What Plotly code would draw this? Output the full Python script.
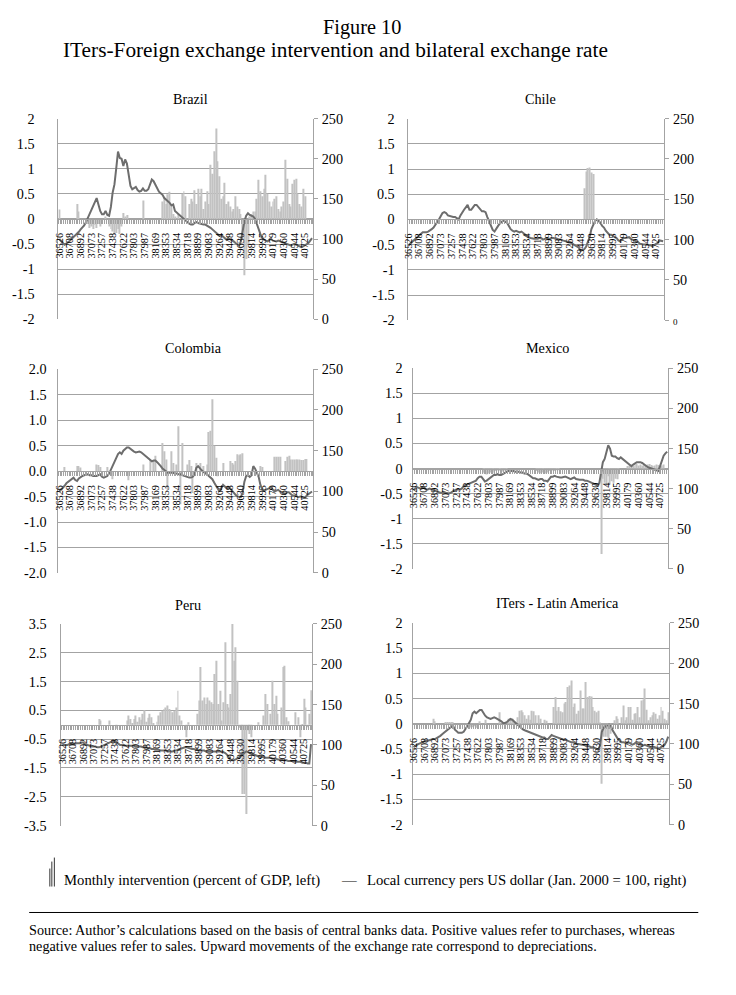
import plotly.graph_objects as go

# ---------------- data ----------------
months = list(range(143))  # Jan 2000 ... Nov 2011 (monthly categories)
tick_positions = [0, 6, 12, 18, 24, 30, 36, 42, 48, 54, 60, 66, 72, 78, 84, 90, 96, 102, 108, 114, 120, 126, 132, 138]
tick_labels = ["36526", "36708", "36892", "37073", "37257", "37438", "37622", "37803", "37987", "38169",
               "38353", "38534", "38718", "38899", "39083", "39264", "39448", "39630", "39814", "39995",
               "40179", "40360", "40544", "40725"]

brazil_intervention = [
    0.19, 0, 0, 0, 0, 0, 0, 0, 0, 0,
    0.30, 0.15, 0, 0, 0, 0, -0.10, -0.18, -0.15, -0.20,
    -0.12, -0.18, -0.10, -0.15, 0, 0, 0.05, 0, -0.15, -0.20,
    -0.25, -0.30, -0.28, -0.20, -0.30, -0.15, 0.12, 0.05, 0.08, 0,
    0, 0, 0, 0, 0, 0, 0, 0.37, 0, 0,
    0, 0, 0, 0, 0, 0, 0, 0, 0.35, 0.42,
    0.30, 0.49, 0.54, 0.30, 0.10, 0.05, 0, 0.10, 0, 0.50,
    0.55, 0.45, 0, 0.30, 0.40, 0.35, 0.57, 0.30, 0.60, 0.45,
    0.60, 0.20, 0.35, 0.55, 0.30, 1.08, 0.90, 1.35, 1.80, 1.15,
    0.85, 0.40, 0.45, 0.72, 0.30, 0.35, 0.25, 0.15, 0.20, 0.45,
    0.25, 0.20, 0.10, -0.30, -1.12, -0.80, -0.50, 0.05, 0.10, 0.15,
    0.15, 0.40, 0.78, 0.55, 0.45, 0.60, 0.88, 0.50, 0.35, 0.25,
    0.35, 0.40, 0.45, 0.20, 0.15, 0.25, 0.35, 1.18, 0.80, 0.30,
    0.25, 0.70, 0.78, 0.80, 0.50, 0.30, 0.25, 0.60, 0.45, 0,
    0, 0, 0]
brazil_fx = [
    100, 97, 95, 93, 94, 96, 98, 100, 102, 105,
    107, 109, 112, 114, 117, 121, 126, 131, 137, 141,
    146, 151, 143, 135, 131, 131, 135, 130, 129, 140,
    158, 168, 188, 209, 201, 200, 191, 199, 194, 178,
    166, 162, 163, 165, 161, 159, 160, 163, 160, 160,
    162, 167, 174, 172, 168, 163, 159, 157, 155, 151,
    149, 148, 145, 142, 143, 135, 133, 130, 128, 126,
    124, 122, 120, 119, 118, 118, 120, 121, 120, 119,
    118, 118, 118, 117, 116, 114, 112, 110, 108, 106,
    104, 105, 103, 101, 99, 101, 100, 98, 97, 95,
    93, 92, 97, 112, 122, 129, 132, 130, 129, 128,
    125, 118, 112, 106, 102, 99, 98, 97, 99, 100,
    98, 97, 97, 98, 97, 96, 95, 95, 93, 93,
    92, 93, 94, 93, 92, 91, 90, 91, 92, 94,
    95, 98, 101]

chile_intervention = [
    0, 0, 0, 0, 0, 0, 0, 0, 0, 0,
    0, 0, 0, 0, 0, 0, 0, 0, 0, 0,
    0, 0, 0, 0, 0, 0, 0, 0, 0, 0,
    0, 0, 0, 0, 0, 0, 0, 0, 0, 0,
    0, 0, 0, 0, 0, 0, 0, 0, 0, 0,
    0, 0, 0, 0, 0, 0, 0, 0, 0, 0,
    0, 0, 0, 0, 0, 0, 0, 0, 0, 0,
    0, 0, 0, 0, 0, 0, 0, 0, 0, 0,
    0, 0, 0, 0, 0, 0, 0, 0, 0, 0,
    0, 0, 0, 0, 0, 0, 0, 0, 0.62, 0.95,
    1.02, 1.03, 0.93, 0.90, 0, 0, 0, 0, 0, 0,
    0, 0, 0, 0, 0, 0, 0, 0, 0, 0,
    0, 0, 0, 0, 0, 0, 0, 0, 0, 0,
    0, 0, 0, 0, 0, 0, 0, 0, 0, 0,
    0, 0, 0]
chile_fx = [
    93, 95, 97, 99, 101, 104, 106, 108, 109, 109,
    109, 110, 111, 113, 115, 118, 121, 125, 129, 133,
    134, 133, 130, 129, 129, 128, 128, 126, 125, 130,
    134, 137, 140, 143, 137, 137, 140, 143, 143, 140,
    137, 135, 135, 134, 128, 122, 117, 112, 110, 114,
    117, 120, 122, 124, 122, 121, 117, 113, 111, 110,
    111, 110, 109, 110, 108, 106, 104, 103, 102, 101,
    101, 101, 101, 102, 102, 100, 101, 102, 101, 101,
    102, 102, 101, 101, 100, 100, 99, 98, 98, 97,
    97, 96, 94, 93, 92, 90, 86, 87, 88, 91,
    97, 103, 113, 119, 123, 125, 123, 121, 117, 115,
    111, 108, 106, 106, 104, 103, 102, 99, 98, 100,
    102, 102, 103, 103, 101, 100, 99, 98, 97, 95,
    94, 94, 94, 94, 93, 93, 92, 93, 95, 96,
    99, 98, 98]

colombia_intervention = [
    0, 0, 0, 0.08, 0, 0, 0, 0, 0, 0,
    0.10, 0.10, 0.07, 0, 0, 0, 0, 0, 0, 0,
    0, 0.13, 0.12, 0.08, 0, 0, 0, 0.08, 0, 0,
    -0.16, 0, 0, 0, 0, 0, 0, 0, 0, -0.18,
    0, 0, 0, 0, 0, 0, 0, 0.13, 0, 0,
    0, 0.22, 0, 0.22, 0.30, 0, 0, 0, 0.55, 0.39,
    0.23, -0.36, 0, 0.39, 0.16, 0, 0.13, 0.88, -0.65, 0.55,
    0, 0, 0.13, 0.22, 0.10, -0.43, 0, 0.16, 0, 0.16,
    0, 0.10, 0, 0.13, 0.77, 0.79, 1.41, 0.50, 0.26, -0.10,
    0, 0, 0.16, 0, 0, 0, 0.20, 0.16, 0.13, 0.20,
    0.33, 0.31, 0.33, 0.35, 0, 0, 0, 0, 0, 0,
    0, 0, 0, 0.10, 0.08, 0, 0, 0, 0, 0,
    0, 0.28, 0.28, 0.28, 0.28, 0, 0, 0.20, 0.28, 0.30,
    0.23, 0.23, 0.23, 0.23, 0.23, 0.23, 0.22, 0.22, 0.24, 0.24,
    0, 0, 0]
colombia_fx = [
    100, 102, 104, 107, 110, 112, 114, 116, 117, 114,
    113, 116, 118, 119, 120, 121, 121, 120, 120, 119,
    119, 119, 120, 121, 118, 117, 118, 119, 122, 127,
    133, 138, 143, 146, 148, 146, 150, 152, 154, 154,
    152, 150, 149, 148, 149, 149, 148, 146, 145, 143,
    141, 139, 137, 138, 138, 136, 134, 131, 128, 126,
    124, 123, 123, 123, 123, 122, 122, 121, 121, 120,
    119, 119, 118, 117, 117, 118, 121, 129, 131, 128,
    126, 124, 123, 121, 119, 117, 115, 111, 107, 103,
    100, 104, 108, 106, 104, 105, 104, 101, 98, 96,
    94, 93, 93, 99, 112, 119, 120, 118, 120, 131,
    128, 123, 118, 108, 103, 101, 102, 103, 104, 105,
    102, 100, 101, 102, 100, 99, 98, 97, 99, 99,
    97, 95, 95, 95, 93, 94, 94, 92, 92, 95,
    97, 99, 100]

mexico_intervention = [
    0, 0, 0, 0, 0, 0, 0, 0, 0, 0,
    0, 0, 0, 0, 0, 0, 0, 0, 0, 0,
    0, 0, 0, 0, 0, 0, 0, 0, 0, 0,
    0, 0, 0, 0, 0, 0, 0, 0, 0, -0.08,
    -0.10, -0.12, -0.10, -0.08, -0.10, -0.06, -0.05, -0.04, -0.03, -0.05,
    -0.06, -0.04, -0.03, 0, 0, 0, 0, 0, 0, 0,
    0, 0, 0, 0, 0, 0, 0, 0, 0, -0.05,
    -0.08, -0.10, -0.08, -0.06, -0.10, -0.08, -0.05, -0.06, -0.04, -0.05,
    -0.03, -0.02, 0, 0, 0, 0, 0, 0, 0, 0,
    0, 0, 0, 0, 0, 0, 0, 0, 0, 0,
    0, 0, 0, 0, 0, -1.70, -0.20, -0.28, -0.34, -0.15,
    -0.31, -0.25, -0.28, -0.20, -0.21, -0.10, 0, 0, 0, 0,
    0.05, 0.06, 0.08, 0.05, 0.07, 0.09, 0.06, 0.08, 0.05, 0.07,
    0.06, 0.08, 0.09, 0.07, 0.05, 0.06, 0.08, 0.07, 0.05, 0.06,
    0.08, 0, 0]
mexico_fx = [
    98, 100, 102, 101, 100, 101, 101, 99, 99, 100,
    99, 98, 97, 97, 96, 95, 95, 96, 95, 94,
    94, 95, 97, 98, 99, 99, 99, 100, 103, 104,
    105, 106, 108, 109, 109, 110, 113, 115, 115, 112,
    109, 110, 112, 114, 115, 117, 117, 118, 117, 117,
    118, 120, 121, 122, 122, 122, 122, 121, 121, 121,
    120, 120, 119, 119, 118, 116, 114, 113, 113, 112,
    111, 112, 112, 110, 110, 109, 112, 115, 115, 116,
    115, 114, 114, 114, 115, 115, 114, 113, 112, 113,
    114, 112, 111, 111, 111, 111, 110, 110, 109, 108,
    107, 106, 105, 104, 107, 120, 133, 137, 144, 154,
    150, 141, 140, 140, 138, 137, 139, 137, 135, 133,
    132, 130, 128, 130, 132, 133, 133, 133, 132, 130,
    129, 127, 126, 125, 124, 123, 122, 122, 128, 134,
    141, 144, 146]

peru_intervention = [
    0, 0, 0, 0, 0, 0, 0, 0, 0, 0,
    0, 0, 0, 0, 0, 0, 0, 0, 0, 0,
    0, 0.20, 0.15, 0, 0, 0, 0, 0.15, 0, 0,
    0, -0.14, 0, 0, 0, 0, 0, 0.15, 0.32, 0.20,
    0.05, 0.20, 0.32, 0.10, 0.26, 0.17, 0.38, 0.50, 0.10, 0.24,
    0.38, 0.26, 0.05, 0, 0.10, 0.32, 0.43, 0.49, 0.55, 0.60,
    0.67, 0.55, 0.49, 0.43, 0.49, 0.60, 1.18, 0.32, 0.15, 0,
    0, -0.43, 0.09, 0, 0, 0, 0, 0.38, 0.84, 2.00,
    0.84, 0.95, 0.72, 0.95, 0.84, 0.78, 0.72, 1.76, 2.22, 0.72,
    1.18, 0.15, 0.78, 2.86, 0.72, 0.60, 1.07, 3.50, 2.22, 2.69,
    1.53, -0.10, -0.12, -2.40, -2.40, -3.10, -0.20, -0.32, -0.43, 0,
    0, 0, 0.09, 0, 0, 0.32, 1.07, 0.72, 0, 0.38,
    1.53, 0.72, 1.01, 0.38, 0, 0.60, 2.00, 2.05, 0.26, 0.12,
    0, 0, 0, 0.43, 0, 0.26, -0.43, 0.03, 0.90, 0.60,
    -0.09, 0.38, 1.20]
peru_fx = [
    100, 100, 100, 100, 101, 101, 101, 101, 102, 102,
    102, 103, 103, 101, 100, 99, 99, 98, 98, 98,
    97, 97, 98, 99, 100, 101, 102, 103, 104, 105,
    105, 103, 101, 100, 100, 99, 99, 99, 99, 99,
    99, 99, 98, 98, 98, 98, 97, 97, 97, 96,
    96, 95, 95, 94, 94, 94, 93, 93, 93, 93,
    92, 92, 92, 92, 93, 93, 94, 95, 96, 96,
    97, 97, 96, 96, 95, 95, 94, 94, 93, 93,
    93, 93, 92, 92, 92, 92, 92, 92, 92, 92,
    92, 92, 91, 90, 88, 85, 82, 81, 81, 82,
    83, 84, 86, 88, 90, 92, 91, 90, 89, 88,
    87, 86, 86, 85, 85, 85, 84, 84, 84, 84,
    83, 83, 83, 82, 82, 82, 81, 81, 81, 80,
    80, 80, 80, 79, 79, 79, 79, 78, 78, 78,
    77, 77, 101]

latam_intervention = [
    0, 0, 0, 0, 0, 0, 0, 0, 0, 0,
    0, 0.10, 0.05, 0, 0, 0, 0, 0, 0.03, 0.02,
    0.03, 0.02, 0.03, 0, 0, 0, 0, 0, 0, 0,
    -0.05, -0.08, -0.06, -0.07, -0.05, -0.08, 0, 0.05, 0, 0,
    0.08, 0, 0, 0, 0, 0, 0, 0, 0.23, 0,
    0, 0, 0, 0.10, 0.08, 0.10, 0.06, 0, 0.13, 0.26,
    0.27, 0.23, 0.17, 0.10, 0.17, 0.08, 0.26, 0.25, 0.17, 0,
    0.17, 0.10, 0, 0.08, 0.06, 0, 0, 0, 0.33, 0.53,
    0.26, 0.33, 0.25, 0.23, 0.40, 0.43, 0.73, 0.76, 0.86, 0.33,
    0.40, 0.20, 0.26, 0.66, 0.30, 0.30, 0.83, 0.53, 0.55, 0.54,
    0.33, 0.26, 0.23, 0.26, 0.03, -1.19, -0.26, -0.26, -0.26, -0.30,
    -0.20, 0, 0.07, 0.15, 0.10, 0, 0.13, 0.36, 0.07, 0.13,
    0.33, 0.33, 0.08, 0.20, 0.21, 0.33, 0.13, 0.46, 0.48, 0.70,
    0.28, 0.07, 0.13, 0.17, 0.23, 0.20, 0.10, 0.17, 0.33, 0.26,
    0.10, 0.07, 0.23]
latam_fx = [
    96, 97, 99, 100, 101, 103, 104, 104, 104, 105,
    105, 106, 106, 107, 108, 110, 112, 114, 115, 117,
    119, 121, 123, 118, 116, 114, 114, 114, 115, 118,
    122, 126, 130, 138, 140, 138, 140, 142, 142, 138,
    135, 133, 132, 131, 132, 133, 132, 131, 129, 128,
    126, 126, 127, 129, 131, 130, 128, 126, 123, 121,
    119, 118, 117, 116, 115, 114, 113, 112, 111, 110,
    110, 109, 108, 108, 106, 106, 108, 111, 110, 109,
    108, 108, 107, 106, 105, 105, 104, 103, 102, 102,
    101, 100, 100, 99, 99, 99, 99, 97, 97, 96,
    96, 95, 94, 93, 98, 115, 120, 122, 123, 124,
    123, 117, 113, 109, 106, 104, 102, 102, 101, 101,
    102, 101, 99, 100, 102, 100, 99, 98, 98, 99,
    98, 96, 96, 97, 96, 95, 94, 94, 96, 97,
    99, 103, 109]

left_ticks_2 = [-2, -1.5, -1, -0.5, 0, 0.5, 1, 1.5, 2]
left_labels_2 = ["-2", "-1.5", "-1", "-0.5", "0", "0.5", "1", "1.5", "2"]
left_labels_2dec = ["-2.0", "-1.5", "-1.0", "-0.5", "0.0", "0.5", "1.0", "1.5", "2.0"]
left_ticks_peru = [-3.5, -2.5, -1.5, -0.5, 0.5, 1.5, 2.5, 3.5]
left_labels_peru = ["-3.5", "-2.5", "-1.5", "-0.5", "0.5", "1.5", "2.5", "3.5"]
right_ticks = [0, 50, 100, 150, 200, 250]
right_labels = ["0", "50", "100", "150", "200", "250"]
right_labels_chile = ["<span style='font-size:9px'>0</span>", "50", "100", "150", "200", "250"]

for arr in [brazil_intervention, brazil_fx, chile_intervention, chile_fx, colombia_intervention,
            colombia_fx, mexico_intervention, mexico_fx, peru_intervention, peru_fx,
            latam_intervention, latam_fx]:
    assert len(arr) == 143, len(arr)

# ---------------- layout ----------------
# The page body keeps its default 8px margin, so the figure is 16px smaller than
# the window.  Positions below are given in target-picture pixels and mapped to
# page pixels (the captured picture comes out slightly scaled/offset).
PAGE_MARGIN = 8
W, H = 736 - 2 * PAGE_MARGIN, 995 - 2 * PAGE_MARGIN
SX, OX = 0.987, 6.0
SY, OY = 0.985, 6.4
FONT = "Liberation Serif"
GRID = "#a3a3a3"
BAR = "#c2c2c2"
LINE = "#6d6d6d"


def px(x):
    return ((x - OX) / SX - PAGE_MARGIN) / W


def py(y):
    return 1 - ((y - OY) / SY - PAGE_MARGIN) / H


def fs(s):
    return round(s / SY, 1)


panels = [
    dict(title="Brazil", tpos=(190, 97), box=(59, 117, 312, 318), ylim=(-2, 2),
         lt=left_ticks_2, ll=left_labels_2, rl=right_labels, so=20,
         bars=brazil_intervention, line=brazil_fx),
    dict(title="Chile", tpos=(538, 97), box=(406, 117, 661, 319), ylim=(-2, 2),
         lt=left_ticks_2, ll=left_labels_2, rl=right_labels_chile, so=9,
         bars=chile_intervention, line=chile_fx),
    dict(title="Colombia", tpos=(193, 347), box=(59, 368, 312, 572), ylim=(-2, 2),
         lt=left_ticks_2, ll=left_labels_2dec, rl=right_labels, so=8,
         bars=colombia_intervention, line=colombia_fx),
    dict(title="Mexico", tpos=(545, 347), box=(411, 367, 665, 568), ylim=(-2, 2),
         lt=left_ticks_2, ll=left_labels_2, rl=right_labels, so=6,
         bars=mexico_intervention, line=mexico_fx),
    dict(title="Peru", tpos=(188, 604), box=(62, 623, 311, 825), ylim=(-3.5, 3.5),
         lt=left_ticks_peru, ll=left_labels_peru, rl=right_labels, so=11,
         bars=peru_intervention, line=peru_fx),
    dict(title="ITers - Latin America", tpos=(555, 602), box=(411, 622, 666, 824), ylim=(-2, 2),
         lt=left_ticks_2, ll=left_labels_2, rl=right_labels, so=6,
         bars=latam_intervention, line=latam_fx),
]

fig = go.Figure()
layout = dict(
    width=W, height=H, autosize=False,
    margin=dict(l=0, r=0, t=0, b=0),
    paper_bgcolor="white", plot_bgcolor="white",
    showlegend=False, bargap=0.4,
    font=dict(family=FONT, color="black"),
)
annotations = []
shapes = []

for k, p in enumerate(panels, start=1):
    xr = "x" if k == 1 else f"x{k}"
    yl = f"y{2 * k - 1}" if k > 1 else "y"
    yr = f"y{2 * k}"
    x0, y0, x1, y1 = p["box"]
    ymin, ymax = p["ylim"]
    yzero_px = y0 + (ymax - 0) / (ymax - ymin) * (y1 - y0)

    fig.add_trace(go.Bar(x=months, y=p["bars"], xaxis=xr, yaxis=yl,
                         marker=dict(color=BAR, line=dict(width=0)), width=0.55,
                         hoverinfo="skip"))
    fig.add_trace(go.Scatter(x=months, y=p["line"], xaxis=xr, yaxis=yr, mode="lines",
                             line=dict(color=LINE, width=2), hoverinfo="skip"))

    xkey = "xaxis" if k == 1 else f"xaxis{k}"
    ylkey = "yaxis" if k == 1 else f"yaxis{2 * k - 1}"
    yrkey = f"yaxis{2 * k}"
    layout[xkey] = dict(
        domain=[px(x0), px(x1)], anchor="free", position=py(yzero_px),
        range=[-0.5, 142.5], tickmode="array", tickvals=tick_positions, ticktext=tick_labels,
        tickangle=-90, tickfont=dict(family=FONT, size=fs(10), color="black"),
        ticks="", showgrid=False, zeroline=False, showline=True, linecolor=GRID, linewidth=1,
        minor=dict(ticks="outside", ticklen=4, tickcolor=GRID, tickwidth=1,
                   tickmode="linear", tick0=-0.5, dtick=1, showgrid=False),
        ticklabelstandoff=9, fixedrange=True,
    )
    layout[ylkey] = dict(
        domain=[py(y1), py(y0)], anchor=xr, range=[ymin, ymax],
        tickmode="array", tickvals=p["lt"], ticktext=p["ll"],
        showgrid=True, gridcolor=GRID, gridwidth=1, zeroline=False,
        showline=True, linecolor=GRID, linewidth=1, ticks="",
        tickfont=dict(family=FONT, size=fs(14), color="black"),
        ticklabelstandoff=p["so"], fixedrange=True,
    )
    layout[yrkey] = dict(
        overlaying=yl, side="right", anchor=xr, range=[0, 250],
        tickmode="array", tickvals=right_ticks, ticktext=p["rl"],
        showgrid=False, zeroline=False, showline=True, linecolor=GRID, linewidth=1,
        ticks="outside", ticklen=4, tickcolor=GRID,
        tickfont=dict(family=FONT, size=fs(14), color="black"),
        ticklabelstandoff=1, fixedrange=True,
    )
    annotations.append(dict(text=p["title"], x=px(p["tpos"][0]), y=py(p["tpos"][1]),
                            xref="paper", yref="paper", xanchor="center", yanchor="middle",
                            showarrow=False, font=dict(family=FONT, size=fs(14), color="black")))

# titles
annotations.append(dict(text="Figure 10", x=px(361), y=py(26), xref="paper", yref="paper",
                        xanchor="center", yanchor="middle", showarrow=False,
                        font=dict(family=FONT, size=fs(20), color="black")))
annotations.append(dict(text="ITers-Foreign exchange intervention and bilateral exchange rate",
                        x=px(334), y=py(48), xref="paper", yref="paper",
                        xanchor="center", yanchor="middle", showarrow=False,
                        font=dict(family=FONT, size=fs(21), color="black")))

# legend
annotations.append(dict(text="Monthly intervention (percent of GDP, left)", x=px(63), y=py(880),
                        xref="paper", yref="paper", xanchor="left", yanchor="middle",
                        showarrow=False, font=dict(family=FONT, size=fs(14.5), color="black")))
annotations.append(dict(text="—", x=px(348), y=py(879), xref="paper", yref="paper",
                        xanchor="center", yanchor="middle", showarrow=False,
                        font=dict(family=FONT, size=fs(14.5), color="black")))
annotations.append(dict(text="Local currency pers US dollar (Jan. 2000 = 100, right)", x=px(364), y=py(880),
                        xref="paper", yref="paper", xanchor="left", yanchor="middle",
                        showarrow=False, font=dict(family=FONT, size=fs(14.5), color="black")))
for lx, ly in [(50.5, 868), (52.5, 861), (55.0, 857)]:
    shapes.append(dict(type="line", xref="paper", yref="paper", x0=px(lx), x1=px(lx),
                       y0=py(886), y1=py(ly), line=dict(color="#333333", width=1)))

# rule and source
shapes.append(dict(type="line", xref="paper", yref="paper", x0=px(30), x1=px(695),
                   y0=py(912), y1=py(912), line=dict(color="black", width=1)))
annotations.append(dict(
    text="Source: Author’s calculations based on the basis of central banks data. Positive values refer to purchases, whereas",
    x=px(28), y=py(930), xref="paper", yref="paper", xanchor="left", yanchor="middle",
    showarrow=False, font=dict(family=FONT, size=fs(14), color="black")))
annotations.append(dict(
    text="negative values refer to sales. Upward movements of the exchange rate correspond to depreciations.",
    x=px(28), y=py(946), xref="paper", yref="paper", xanchor="left", yanchor="middle",
    showarrow=False, font=dict(family=FONT, size=fs(14), color="black")))

layout["annotations"] = annotations
layout["shapes"] = shapes
fig.update_layout(**layout)
fig.write_html("out.html", config={"displayModeBar": False})
